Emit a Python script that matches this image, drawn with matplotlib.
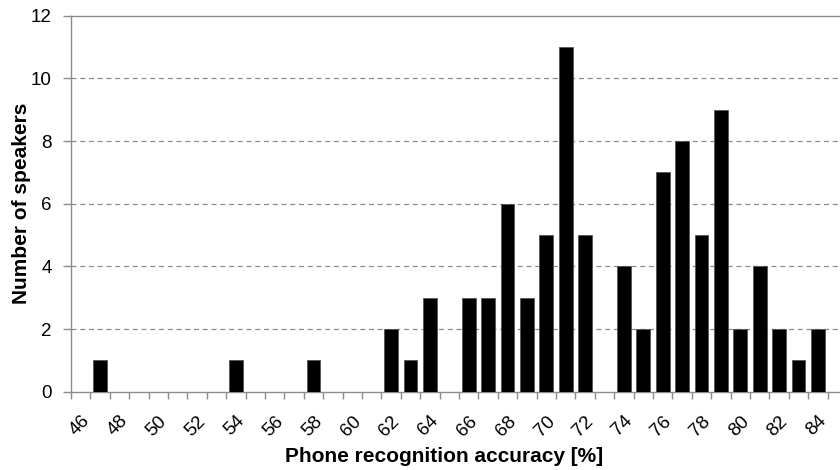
import matplotlib.pyplot as plt

plt.rcParams['font.family'] = ['Liberation Sans', 'DejaVu Sans']

accuracy = [46, 47, 48, 49, 50, 51, 52, 53, 54, 55, 56, 57, 58, 59, 60, 61, 62, 63, 64, 65,
            66, 67, 68, 69, 70, 71, 72, 73, 74, 75, 76, 77, 78, 79, 80, 81, 82, 83, 84, 85]
speakers = [0, 1, 0, 0, 0, 0, 0, 0, 1, 0, 0, 0, 1, 0, 0, 0, 2, 1, 3, 0,
            3, 3, 6, 3, 5, 11, 5, 0, 4, 2, 7, 8, 5, 9, 2, 4, 2, 1, 2, 0]
tickLabels = [46, 48, 50, 52, 54, 56, 58, 60, 62, 64, 66, 68, 70, 72, 74, 76, 78, 80, 82, 84]
yTicks = [0, 2, 4, 6, 8, 10, 12]

axisGray = "#8c8c8c"

fig = plt.figure(figsize=(8.4, 4.7), dpi=100)
ax = fig.add_axes([71 / 840, 78.3 / 470, 1 - 71 / 840, 0.8])

ax.bar(accuracy, speakers, width=0.72, color="black", edgecolor="#555555", linewidth=0.6, zorder=3)

ax.set_xlim(45.5, 45.5 + (840 - 71) / 19.4)
ax.set_ylim(0, 12)

# grid lines (dashed), the top one is a solid border
for y in yTicks[1:-1]:
    ax.axhline(y, color=axisGray, linewidth=0.9, linestyle=(0, (4, 3)), zorder=1)

ax.spines["right"].set_visible(False)
for side in ["left", "bottom", "top"]:
    ax.spines[side].set_color(axisGray)
    ax.spines[side].set_linewidth(1.0)

ax.set_yticks(yTicks)
ax.set_yticklabels([str(v) for v in yTicks], fontsize=13.5)
ax.tick_params(axis="y", direction="out", length=6, width=1, color=axisGray, pad=8)

ax.set_xticks(tickLabels)
ax.set_xticklabels([str(v) for v in tickLabels], fontsize=13.5, rotation=45,
                   ha="right", va="top", rotation_mode="anchor")
ax.set_xticks([a - 0.5 for a in accuracy], minor=True)
ax.tick_params(axis="x", which="major", length=0, pad=15)
ax.tick_params(axis="x", which="minor", direction="out", length=5, width=1, color=axisGray)

ax.set_xlabel("Phone recognition accuracy [%]", fontsize=15, fontweight="bold")
ax.xaxis.set_label_coords((444 - 71) / (840 - 71), -0.148)
ax.set_ylabel("Number of speakers", fontsize=15, fontweight="bold")
ax.yaxis.set_label_coords(-0.052, 0.5)

fig.savefig("out.png", dpi=100)
